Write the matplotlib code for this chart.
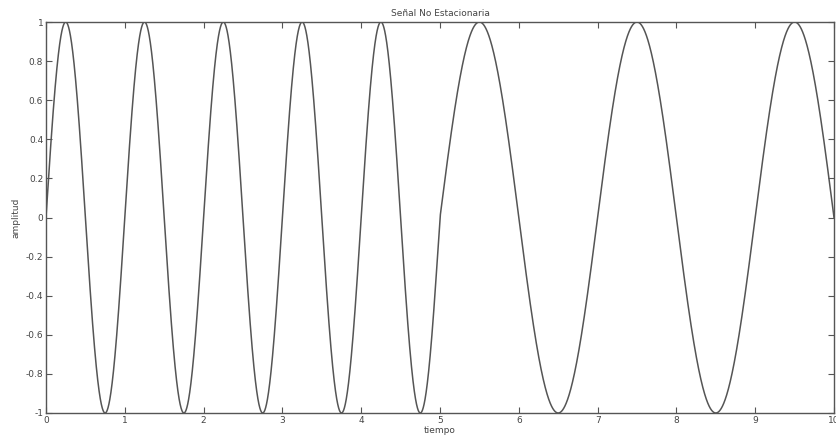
import numpy as np
import matplotlib
matplotlib.use("Agg")
import matplotlib.pyplot as plt

# signal segments: start/end time (s) and frequency (Hz) of each piece
seg_start = [0, 5]
seg_end = [5, 10]
seg_freq = [1.0, 0.5]
fs = 1000

x_ticks = [0, 1, 2, 3, 4, 5, 6, 7, 8, 9, 10]
y_ticks = [-1, -0.8, -0.6, -0.4, -0.2, 0, 0.2, 0.4, 0.6, 0.8, 1]

t_parts = []
y_parts = []
for t0, t1, f in zip(seg_start, seg_end, seg_freq):
    t = np.linspace(t0, t1, int((t1 - t0) * fs) + 1)
    t_parts.append(t)
    y_parts.append(np.sin(2 * np.pi * f * (t - t0)))
tiempo = np.concatenate(t_parts)
amplitud = np.concatenate(y_parts)

fig = plt.figure(figsize=(8.36, 4.43), dpi=100)
ax = fig.add_axes([46 / 836, 30 / 443, 788 / 836, 391 / 443])
ax.plot(tiempo, amplitud, color="#555555", lw=1.1)

ax.set_xlim(0, 10)
ax.set_ylim(-1, 1)
ax.set_xticks(x_ticks)
ax.set_yticks(y_ticks)
ax.set_xticklabels([str(v) for v in x_ticks])
ax.set_yticklabels(["%g" % v for v in y_ticks])
ax.tick_params(direction="in", top=True, right=True, length=4, width=0.8,
               colors="#555555", labelsize=6.5, labelcolor="#444444", pad=2)
for s in ax.spines.values():
    s.set_color("#555555")
    s.set_linewidth(1.0)

ax.set_title("Señal No Estacionaria", fontsize=6.5, color="#444444", pad=4)
ax.set_xlabel("tiempo", fontsize=6.5, color="#444444", labelpad=1)
ax.set_ylabel("amplitud", fontsize=6.5, color="#444444", labelpad=4)

fig.savefig("out.png", dpi=100)
